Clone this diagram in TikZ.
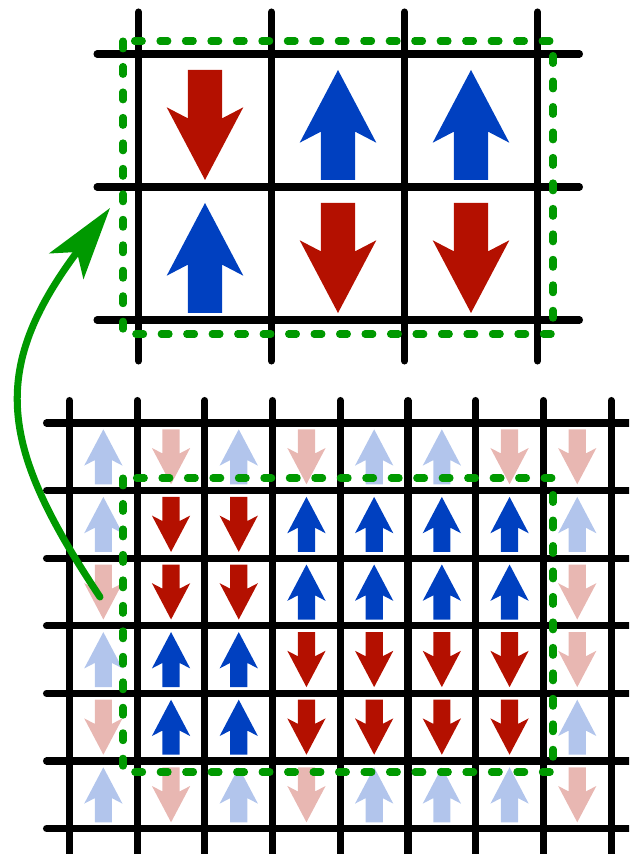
\documentclass[tikz,border=0pt]{standalone}
\usetikzlibrary{arrows.meta}

\definecolor{rot}{RGB}{180,16,0}
\definecolor{blau}{RGB}{0,64,192}
\definecolor{gruen}{RGB}{0,153,0}

\tikzset{
    pfeil/.pic={\fill (0,-55) -- (38.3,17.7) -- (17.2,6.7) -- (17.2,55) -- (-17.2,55) -- (-17.2,6.7) -- (-38.3,17.7) -- cycle;},
    sauf/.style={blau},
    sab/.style={rot, rotate=180},
    bauf/.style={blau, opacity=0.3},
    bab/.style={rot, rotate=180, opacity=0.3},
    gitter/.style={line width=4pt, line cap=round},
    rahmen/.style={gruen, line width=4pt, line cap=round, dash pattern=on 4.5pt off 10pt}
}

\begin{document}
\begin{tikzpicture}[x=0.02cm, y=-0.02cm]
    \clip (0,0) rectangle (629,854);

    % Spins unten
    \foreach \zeile [count=\j from 0] in {
        {bauf,bab,bauf,bab,bauf,bauf,bab,bab},
        {bauf,sab,sab,sauf,sauf,sauf,sauf,bauf},
        {bab,sab,sab,sauf,sauf,sauf,sauf,bab},
        {bauf,sauf,sauf,sab,sab,sab,sab,bab},
        {bab,sauf,sauf,sab,sab,sab,sab,bauf},
        {bauf,bab,bauf,bab,bauf,bauf,bauf,bab}}
        \foreach \typ [count=\i from 0] in \zeile
            \pic[\typ, scale=0.5] at ({103.35+67.7*\i},{456.8+67.6*\j}) {pfeil};

    % Gitter unten
    \foreach \i in {0,...,8}
        \draw[gitter] ({69.5+67.7*\i},400.5) -- ({69.5+67.7*\i},870);
    \foreach \j in {0,...,6}
        \draw[gitter] (46.5,{423+67.6*\j}) -- (650,{423+67.6*\j});

    % Ausschnitt unten
    \draw[rahmen] (123,478) rectangle (553,772);

    % Spins oben
    \foreach \zeile [count=\j from 0] in {{sab,sauf,sauf},{sauf,sab,sab}}
        \foreach \typ [count=\i from 0] in \zeile
            \pic[\typ] at ({205+133*\i},{125+133*\j}) {pfeil};

    % Gitter oben
    \foreach \i in {0,...,3}
        \draw[gitter] ({138.5+133*\i},12) -- ({138.5+133*\i},361);
    \foreach \j in {0,1,2}
        \draw[gitter] (97,{54+133*\j}) -- (579.5,{54+133*\j});

    % Ausschnitt oben
    \draw[rahmen] (123,41) rectangle (553,334);

    % Pfeil
    \coordinate (S) at (100,597);
    \coordinate (Z) at (110,208);
    \draw[gruen, line width=4pt, line cap=round, -{Stealth[length=1.45cm, width=0.85cm, inset=0.35cm]}]
        (S) .. controls (1,448) and (-13,372) .. (Z);
\end{tikzpicture}
\end{document}
